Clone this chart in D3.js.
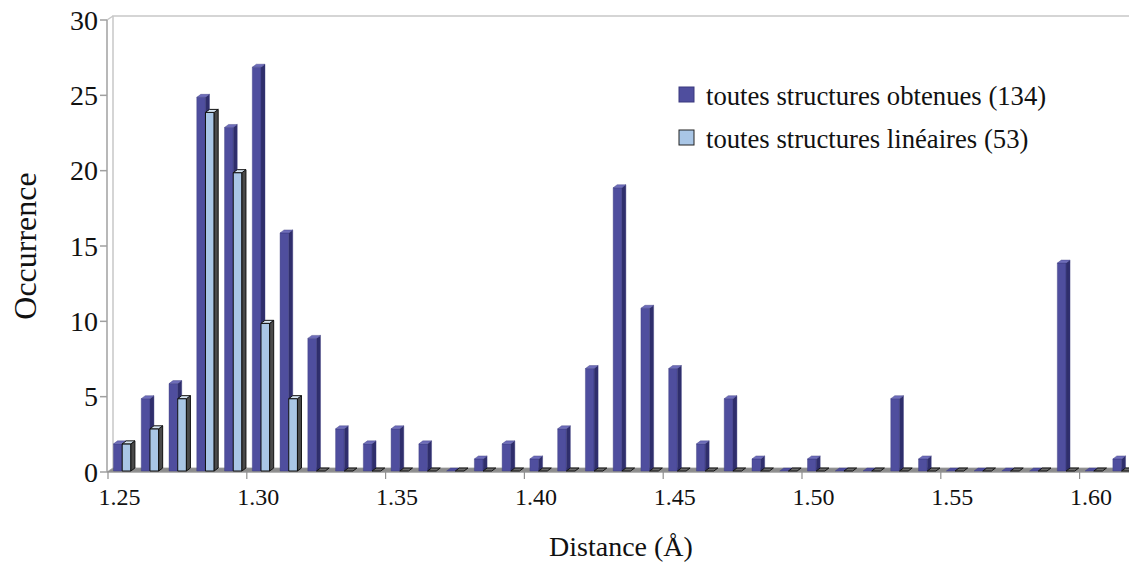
<!DOCTYPE html>
<html>
<head>
<meta charset="utf-8">
<script src="https://cdn.jsdelivr.net/npm/d3@7"></script>
<style>
  html, body { margin: 0; padding: 0; background: #fff; }
  svg { display: block; }
  text { font-family: "Liberation Serif", "DejaVu Serif", serif; fill: #111; }
</style>
</head>
<body>
<svg id="chart" width="1129" height="564" font-family="Liberation Serif, DejaVu Serif, serif"></svg>
<script>
// ---- data ----
const categories = ["1.25","1.26","1.27","1.28","1.29","1.30","1.31","1.32","1.33","1.34",
  "1.35","1.36","1.37","1.38","1.39","1.40","1.41","1.42","1.43","1.44",
  "1.45","1.46","1.47","1.48","1.49","1.50","1.51","1.52","1.53","1.54",
  "1.55","1.56","1.57","1.58","1.59","1.60","1.61"];
const seriesNames = ["toutes structures obtenues (134)", "toutes structures linéaires (53)"];
const obtenues = [2,5,6,25,23,27,16,9,3,2, 3,2,0,1,2,1,3,7,19,11, 7,2,5,1,0,1,0,0,5,1, 0,0,0,0,14,0,1];
const lineaires = [2,3,5,24,20,10,5,0,0,0, 0,0,0,0,0,0,0,0,0,0, 0,0,0,0,0,0,0,0,0,0, 0,0,0,0,0,0,0];
const xTickLabels = ["1.25","1.30","1.35","1.40","1.45","1.50","1.55","1.60"];
const yTicks = [0,5,10,15,20,25,30];

// ---- layout ----
const svg = d3.select("#chart");
const axisX = 107, y0 = 472, yTop = 20;
const dX = 6, dY = -4;            // depth offset of wall
const bdx = 4, bdy = -3;          // bar depth
const y = d3.scaleLinear().domain([0, 30]).range([y0, yTop]);
const step = 27.76;
const x = d3.scaleBand().domain(categories).range([109.5, 109.5 + step * categories.length]).padding(0);
const sub = d3.scaleBand().domain(["obt","lin"]).range([4.0, 21.4]).padding(0);

// wall and floor
const wallCol = "#c8c8c8";
svg.append("path")
  .attr("d", `M${axisX + dX},${y0 + dY}V${yTop + dY}H1140`)
  .attr("fill", "none").attr("stroke", wallCol).attr("stroke-width", 1.5);
svg.append("path")
  .attr("d", `M${axisX},${yTop}L${axisX + dX},${yTop + dY}`)
  .attr("fill", "none").attr("stroke", wallCol).attr("stroke-width", 1.5);
// floor
svg.append("path")
  .attr("d", `M${axisX},${y0}L${axisX + dX},${y0 + dY}H1140V${y0}Z`)
  .attr("fill", "#8c8c8c").attr("stroke", "#9a9a9a").attr("stroke-width", 0.8);

// y axis
const yAxis = svg.append("g");
yAxis.append("line").attr("x1", axisX).attr("x2", axisX).attr("y1", yTop).attr("y2", y0)
  .attr("stroke", "#a0a0a0").attr("stroke-width", 1.5);
yAxis.selectAll("line.tick").data(yTicks).join("line").attr("class", "tick")
  .attr("x1", axisX - 7).attr("x2", axisX).attr("y1", d => y(d)).attr("y2", d => y(d))
  .attr("stroke", "#a0a0a0").attr("stroke-width", 1.5);
yAxis.selectAll("text").data(yTicks).join("text")
  .attr("x", axisX - 9).attr("y", d => y(d)).attr("dy", "0.35em")
  .attr("text-anchor", "end").attr("font-size", 28).text(d => d);

// x axis line & ticks
svg.append("line").attr("x1", axisX).attr("x2", 1129).attr("y1", y0).attr("y2", y0)
  .attr("stroke", "#909090").attr("stroke-width", 1.2);
svg.selectAll("line.xtick").data(xTickLabels).join("line").attr("class", "xtick")
  .attr("x1", d => x(d) - 1.5).attr("x2", d => x(d) - 1.5).attr("y1", y0).attr("y2", y0 + 7)
  .attr("stroke", "#909090").attr("stroke-width", 1.2);
svg.selectAll("text.xlab").data(xTickLabels).join("text").attr("class", "xlab")
  .attr("x", d => x(d) + 10).attr("y", 505).attr("text-anchor", "middle")
  .attr("font-size", 24).text(d => d);

// bars
const styles = {
  obt: { front: "#4f4e9e", side: "#2f2e6c", top: "#6e6dba", stroke: "#3a397e", sw: 0.4 },
  lin: { front: "#a9c6e6", side: "#4a4a4a", top: "#d6e4f2", stroke: "#111", sw: 1 }
};
const barW = sub.bandwidth();
const baseY = 471;
function drawBar(g, x0, v, st) {
  const yt = Math.min(y(v) + 2, baseY);
  if (v > 0) {
    g.append("path").attr("d", `M${x0},${baseY}V${yt}H${x0 + barW}V${baseY}Z`)
      .attr("fill", st.front).attr("stroke", st.stroke).attr("stroke-width", st.sw);
    g.append("path").attr("d", `M${x0 + barW},${baseY}V${yt}L${x0 + barW + bdx},${yt + bdy}V${baseY + bdy}Z`)
      .attr("fill", st.side).attr("stroke", st.stroke).attr("stroke-width", st.sw);
  }
  g.append("path").attr("d", `M${x0},${yt}L${x0 + bdx},${yt + bdy}H${x0 + barW + bdx}L${x0 + barW},${yt}Z`)
    .attr("fill", v > 0 ? st.top : (st === styles.lin ? "#6a6a6a" : st.front))
    .attr("stroke", st.stroke).attr("stroke-width", st.sw);
}
const barsG = svg.append("g");
categories.forEach((c, i) => {
  const g = barsG.append("g");
  drawBar(g, x(c) + sub("obt"), obtenues[i], styles.obt);
  drawBar(g, x(c) + sub("lin"), lineaires[i], styles.lin);
});

// axis titles
svg.append("text").attr("transform", "translate(36,246) rotate(-90)")
  .attr("text-anchor", "middle").attr("font-size", 32).text("Occurrence");
svg.append("text").attr("x", 621).attr("y", 556).attr("text-anchor", "middle")
  .attr("font-size", 28).text("Distance (Å)");

// legend
const legend = svg.append("g");
const legItems = [
  { name: seriesNames[0], fill: "#4f4e9e", stroke: "#3a397e", y: 87 },
  { name: seriesNames[1], fill: "#a9c6e6", stroke: "#222", y: 130 }
];
legItems.forEach(d => {
  legend.append("rect").attr("x", 679).attr("y", d.y).attr("width", 15).attr("height", 15)
    .attr("fill", d.fill).attr("stroke", d.stroke).attr("stroke-width", 1);
  legend.append("text").attr("x", 706).attr("y", d.y + 18).attr("font-size", 26.7).text(d.name);
});
</script>
</body>
</html>
